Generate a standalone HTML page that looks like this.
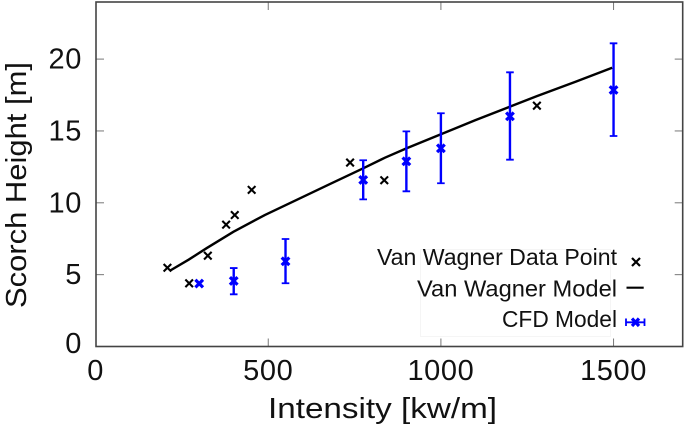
<!DOCTYPE html>
<html lang="en">
<head>
<meta charset="utf-8">
<title>Scorch Height vs Intensity</title>
<style>
html,body{margin:0;padding:0;background:#fff;width:685px;height:429px;overflow:hidden}
svg{display:block}
text{font-family:"Liberation Sans",sans-serif;fill:#111}
.tick{font-size:29px;letter-spacing:.6px}
.axis{font-size:29px}
.leg{font-size:23px}
</style>
</head>
<body>
<svg id="chart" width="685" height="429" viewBox="0 0 685 429" xmlns="http://www.w3.org/2000/svg">
  <rect x="420.5" y="249.5" width="190" height="87" fill="none" stroke="#f5f5f5" stroke-width="1"/>
  <g id="ticks"></g>
  <g id="tick-labels"></g>
  <g id="marks"></g>
  <rect x="96" y="2" width="586.7" height="344.5" fill="none" stroke="#444" stroke-width="1.6"/>
  <text class="axis" x="382.5" y="418" text-anchor="middle" textLength="229" lengthAdjust="spacingAndGlyphs">Intensity [kw/m]</text>
  <text class="axis" transform="translate(26,185) rotate(-90)" text-anchor="middle" textLength="246" lengthAdjust="spacingAndGlyphs">Scorch Height [m]</text>
  <g>
    <text class="leg" x="617" y="265" text-anchor="end" textLength="240" lengthAdjust="spacingAndGlyphs">Van Wagner Data Point</text>
    <text class="leg" x="617" y="296.5" text-anchor="end" textLength="200" lengthAdjust="spacingAndGlyphs">Van Wagner Model</text>
    <text class="leg" x="617" y="327" text-anchor="end" textLength="115" lengthAdjust="spacingAndGlyphs">CFD Model</text>
    <path d="M632 258L640 266M640 258L632 266" stroke="#000" stroke-width="2.2" fill="none"/>
    <path d="M626.5 287.7H643.7" stroke="#000" stroke-width="2.2" fill="none"/>
    <path d="M626 322.3H644.5M626 318.5V326M644.5 318.5V326" stroke="#00f" stroke-width="1.8" fill="none"/>
    <path d="M632 318.5L639 326M639 318.5L632 326" stroke="#00f" stroke-width="3.2" fill="none"/>
  </g>
</svg>
<script>
const xTickValues = [0, 500, 1000, 1500];
const yTickValues = [0, 5, 10, 15, 20];
const dataX = [208, 271, 325, 378, 403, 452, 737, 836, 1278];
const dataY = [5.48, 4.4, 6.32, 8.48, 9.15, 10.9, 12.8, 11.57, 16.76];
const modelX = [215, 270, 322, 399, 490, 582, 680, 775, 838, 900, 1000, 1100, 1200, 1278, 1390, 1496];
const modelY = [5.27, 6.05, 6.85, 7.98, 9.15, 10.2, 11.32, 12.4, 13.14, 13.79, 14.77, 15.75, 16.69, 17.42, 18.42, 19.4];
const cfdX = [300, 400, 550, 775, 900, 1000, 1200, 1500];
const cfdY = [4.38, 4.56, 5.93, 11.59, 12.89, 13.79, 16.02, 17.85];
const cfdLow = [4.38, 3.63, 4.4, 10.24, 10.8, 11.36, 13.0, 14.65];
const cfdHigh = [4.38, 5.46, 7.48, 12.96, 14.97, 16.23, 19.08, 21.1];

const NS = 'http://www.w3.org/2000/svg';
const sx = v => 95.6 + v * 0.3453;
const sy = v => 346.5 - v * 14.37;
const ticksG = document.getElementById('ticks');
const labelsG = document.getElementById('tick-labels');
const marksG = document.getElementById('marks');

function makePath(parent, d, color, width) {
  const p = document.createElementNS(NS, 'path');
  p.setAttribute('d', d);
  p.setAttribute('fill', 'none');
  p.setAttribute('stroke', color);
  p.setAttribute('stroke-width', width);
  parent.appendChild(p);
  return p;
}
function makeText(str, x, y, anchor) {
  const t = document.createElementNS(NS, 'text');
  t.setAttribute('class', 'tick');
  t.setAttribute('x', x);
  t.setAttribute('y', y);
  t.setAttribute('text-anchor', anchor);
  t.textContent = str;
  labelsG.appendChild(t);
  return t;
}
function crossPath(cx, cy, r) {
  return 'M' + (cx - r) + ' ' + (cy - r) + 'L' + (cx + r) + ' ' + (cy + r) +
         'M' + (cx + r) + ' ' + (cy - r) + 'L' + (cx - r) + ' ' + (cy + r);
}

xTickValues.forEach(v => {
  if (v > 0) {
    const top = makePath(ticksG, 'M' + sx(v) + ' 2V10', '#777', 1);
    
    
    const bottom = makePath(ticksG, 'M' + sx(v) + ' 346.5V338.5', '#777', 1);
    
    
  }
  const label = makeText(String(v), sx(v), 380, 'middle');
  
  
});

yTickValues.forEach(v => {
  if (v > 0) {
    const left = makePath(ticksG, 'M96 ' + sy(v) + 'H104', '#777', 1);
    
    
    const right = makePath(ticksG, 'M682.7 ' + sy(v) + 'H674.7', '#777', 1);
    
    
  }
  const label = makeText(String(v), 82, sy(v) + (v === 0 ? 6.5 : 9.5), 'end');
  
  
});

const modelD = modelX.map((x, i) => (i ? 'L' : 'M') + sx(x) + ' ' + sy(modelY[i])).join('');
const modelLine = makePath(marksG, modelD, '#000', 2.4);



dataX.forEach((x, i) => {
  const m = makePath(marksG, crossPath(sx(x), sy(dataY[i]), 3.8), '#000', 2.1);
  
  
});

cfdX.forEach((x, i) => {
  const cx = sx(x);
  if (cfdHigh[i] !== cfdLow[i]) {
    const yl = sy(cfdLow[i]);
    const yh = sy(cfdHigh[i]);
    const bar = makePath(marksG, 'M' + cx + ' ' + yl + 'V' + yh, '#00f', 2.4);
    
    
    const caps = makePath(marksG, 'M' + (cx - 3.8) + ' ' + yl + 'H' + (cx + 3.8) + 'M' + (cx - 3.8) + ' ' + yh + 'H' + (cx + 3.8), '#00f', 1.8);
    
    
  }
  const m = makePath(marksG, crossPath(cx, sy(cfdY[i]), 3.8), '#00f', 3.2);
  
  
});
</script>
</body>
</html>
